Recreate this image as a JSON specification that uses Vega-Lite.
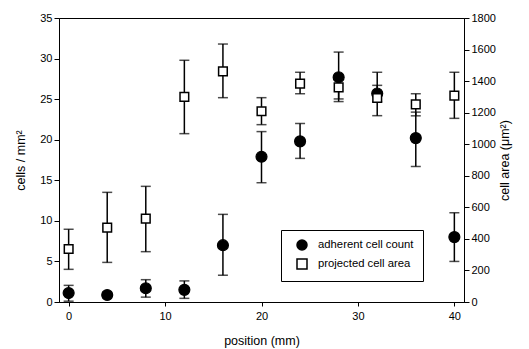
{
  "$schema": "https://vega.github.io/schema/vega-lite/v6.json",
  "width": 405,
  "height": 284,
  "autosize": {"type": "none"},
  "padding": {"left": 59, "top": 18, "right": 65, "bottom": 47},
  "background": "white",
  "config": {
    "font": "Liberation Sans",
    "view": {"stroke": "black", "strokeWidth": 1},
    "axis": {"grid": false, "domainColor": "black", "tickColor": "black", "labelColor": "black", "titleColor": "black", "labelFont": "Liberation Sans", "titleFont": "Liberation Sans", "labelFontSize": 11, "titleFontSize": 12.5, "titleFontWeight": "normal", "tickSize": 5, "domainWidth": 1, "tickWidth": 1},
    "legend": {"orient": "none", "legendX": 222, "legendY": 212, "strokeColor": "black", "fillColor": "white", "padding": 9, "symbolOffset": 6, "labelFontSize": 11.3, "labelColor": "black", "labelFont": "Liberation Sans", "symbolStrokeWidth": 1.5, "symbolSize": 100, "rowPadding": 3, "labelOffset": 10}
  },
  "data": {
    "values": [
      {"position": 0, "series": "adherent cell count", "value": 1.1, "lo": 0.1, "hi": 2.05},
      {"position": 4, "series": "adherent cell count", "value": 0.86, "lo": 0.5, "hi": 1.2},
      {"position": 8, "series": "adherent cell count", "value": 1.7, "lo": 0.6, "hi": 2.75},
      {"position": 12, "series": "adherent cell count", "value": 1.5, "lo": 0.45, "hi": 2.6},
      {"position": 16, "series": "adherent cell count", "value": 7.0, "lo": 3.3, "hi": 10.8},
      {"position": 20, "series": "adherent cell count", "value": 17.9, "lo": 14.7, "hi": 21.0},
      {"position": 24, "series": "adherent cell count", "value": 19.8, "lo": 17.7, "hi": 22.0},
      {"position": 28, "series": "adherent cell count", "value": 27.7, "lo": 24.7, "hi": 30.8},
      {"position": 32, "series": "adherent cell count", "value": 25.7, "lo": 24.7, "hi": 26.7},
      {"position": 36, "series": "adherent cell count", "value": 20.2, "lo": 16.7, "hi": 23.4},
      {"position": 40, "series": "adherent cell count", "value": 8.0, "lo": 5.0, "hi": 11.0},
      {"position": 0, "series": "projected cell area", "value": 336, "lo": 207, "hi": 461},
      {"position": 4, "series": "projected cell area", "value": 471, "lo": 251, "hi": 695},
      {"position": 8, "series": "projected cell area", "value": 528, "lo": 319, "hi": 733},
      {"position": 12, "series": "projected cell area", "value": 1300, "lo": 1067, "hi": 1532},
      {"position": 16, "series": "projected cell area", "value": 1462, "lo": 1295, "hi": 1635},
      {"position": 20, "series": "projected cell area", "value": 1209, "lo": 1124, "hi": 1295},
      {"position": 24, "series": "projected cell area", "value": 1384, "lo": 1320, "hi": 1456},
      {"position": 28, "series": "projected cell area", "value": 1360, "lo": 1287, "hi": 1430},
      {"position": 32, "series": "projected cell area", "value": 1293, "lo": 1181, "hi": 1456},
      {"position": 36, "series": "projected cell area", "value": 1253, "lo": 1180, "hi": 1320},
      {"position": 40, "series": "projected cell area", "value": 1308, "lo": 1164, "hi": 1456}
    ]
  },
  "encoding": {
    "x": {"field": "position", "type": "quantitative", "scale": {"domain": [-1, 41], "nice": false, "zero": false}, "axis": {"values": [0, 10, 20, 30, 40], "title": "position (mm)", "tickSize": 4, "labelPadding": 4, "titlePadding": 13}}
  },
  "layer": [
    {
      "transform": [{"filter": "datum.series === 'adherent cell count'"}],
      "encoding": {
        "y": {"field": "value", "type": "quantitative", "scale": {"domain": [0, 35], "nice": false}, "axis": {"orient": "left", "values": [0, 5, 10, 15, 20, 25, 30, 35], "title": "cells / mm²", "titlePadding": 12}}
      },
      "layer": [
        {"mark": {"type": "rule", "color": "black", "strokeWidth": 1.5}, "encoding": {"y": {"field": "lo", "type": "quantitative"}, "y2": {"field": "hi"}}},
        {"mark": {"type": "tick", "orient": "horizontal", "color": "black", "size": 10, "thickness": 1.5}, "encoding": {"y": {"field": "lo", "type": "quantitative"}}},
        {"mark": {"type": "tick", "orient": "horizontal", "color": "black", "size": 10, "thickness": 1.5}, "encoding": {"y": {"field": "hi", "type": "quantitative"}}},
        {"mark": {"type": "point", "opacity": 1, "strokeWidth": 1.2}, "encoding": {
          "shape": {"field": "series", "type": "nominal", "scale": {"domain": ["adherent cell count", "projected cell area"], "range": ["circle", "square"]}, "legend": {"title": null}},
          "fill": {"field": "series", "type": "nominal", "scale": {"domain": ["adherent cell count", "projected cell area"], "range": ["black", "white"]}, "legend": {"title": null}},
          "stroke": {"field": "series", "type": "nominal", "scale": {"domain": ["adherent cell count", "projected cell area"], "range": ["black", "black"]}, "legend": {"title": null}},
          "size": {"value": 120}
        }}
      ]
    },
    {
      "transform": [{"filter": "datum.series === 'projected cell area'"}],
      "encoding": {
        "y": {"field": "value", "type": "quantitative", "scale": {"domain": [0, 1800], "nice": false}, "axis": {"orient": "right", "format": "d", "values": [0, 200, 400, 600, 800, 1000, 1200, 1400, 1600, 1800], "title": "cell area (μm²)", "titleAngle": 270, "titlePadding": 16}}
      },
      "layer": [
        {"mark": {"type": "rule", "color": "black", "strokeWidth": 1.5}, "encoding": {"y": {"field": "lo", "type": "quantitative"}, "y2": {"field": "hi"}}},
        {"mark": {"type": "tick", "orient": "horizontal", "color": "black", "size": 10, "thickness": 1.5}, "encoding": {"y": {"field": "lo", "type": "quantitative"}}},
        {"mark": {"type": "tick", "orient": "horizontal", "color": "black", "size": 10, "thickness": 1.5}, "encoding": {"y": {"field": "hi", "type": "quantitative"}}},
        {"mark": {"type": "point", "opacity": 1, "strokeWidth": 1.5}, "encoding": {
          "shape": {"field": "series", "type": "nominal", "scale": {"domain": ["adherent cell count", "projected cell area"], "range": ["circle", "square"]}, "legend": {"title": null}},
          "fill": {"field": "series", "type": "nominal", "scale": {"domain": ["adherent cell count", "projected cell area"], "range": ["black", "white"]}, "legend": {"title": null}},
          "stroke": {"field": "series", "type": "nominal", "scale": {"domain": ["adherent cell count", "projected cell area"], "range": ["black", "black"]}, "legend": {"title": null}},
          "size": {"value": 75}
        }}
      ]
    }
  ],
  "resolve": {"scale": {"y": "independent"}}
}
